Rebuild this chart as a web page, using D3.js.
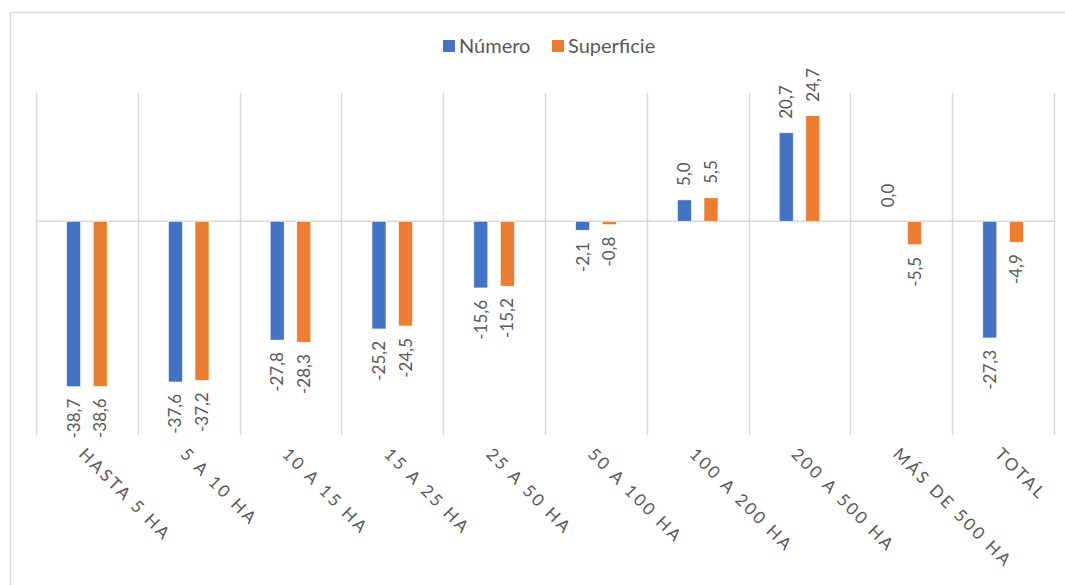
<!DOCTYPE html>
<html>
<head>
<meta charset="utf-8">
<script src="https://d3js.org/d3.v7.min.js"></script>
<style>
  body { margin: 0; background: #fff; }
  text { font-family: Lato, "Open Sans", sans-serif; fill: #595959; }
</style>
</head>
<body>
<div id="chart"></div>
<script>
  var categories = ["HASTA 5 HA", "5 A 10 HA", "10 A 15 HA", "15 A 25 HA", "25 A 50 HA",
    "50 A 100 HA", "100 A 200 HA", "200 A 500 HA", "MÁS DE 500 HA", "TOTAL"];
  var numero = [-38.7, -37.6, -27.8, -25.2, -15.6, -2.1, 5.0, 20.7, 0.0, -27.3];
  var superficie = [-38.6, -37.2, -28.3, -24.5, -15.2, -0.8, 5.5, 24.7, -5.5, -4.9];
  var seriesNames = ["Número", "Superficie"];
  var colors = ["#4472C4", "#ED7D31"];

  var width = 1065, height = 585;
  var margin = { top: 93, right: 11, bottom: 150, left: 36 };

  var svg = d3.select("#chart").append("svg")
    .attr("width", width)
    .attr("height", height);

  // outer frame (only top and left edges are visible in the crop)
  svg.append("line").attr("x1", 10).attr("x2", width).attr("y1", 12.5).attr("y2", 12.5)
    .attr("stroke", "#d9d9d9").attr("stroke-width", 1.5);
  svg.append("line").attr("x1", 10.5).attr("x2", 10.5).attr("y1", 12).attr("y2", height)
    .attr("stroke", "#d9d9d9").attr("stroke-width", 1.5);

  var x = d3.scaleBand()
    .domain(categories)
    .range([margin.left, width - margin.right]);

  var y = d3.scaleLinear()
    .domain([-50, 30])
    .range([height - margin.bottom, margin.top]);

  var data = categories.map(function (c, i) {
    return { cat: c, values: [numero[i], superficie[i]] };
  });

  var barW = 14;
  var offset = 13.3;

  // vertical gridlines at category boundaries
  var bounds = categories.map(function (c) { return x(c); }).concat([x.range()[1]]);
  svg.append("g").selectAll("line")
    .data(bounds)
    .enter().append("line")
    .attr("x1", function (d) { return Math.round(d) + 0.5; })
    .attr("x2", function (d) { return Math.round(d) + 0.5; })
    .attr("y1", y(30))
    .attr("y2", y(-50))
    .attr("stroke", "#d9d9d9")
    .attr("stroke-width", 1.5);

  // zero line
  svg.append("line")
    .attr("x1", x.range()[0]).attr("x2", x.range()[1])
    .attr("y1", y(0)).attr("y2", y(0))
    .attr("stroke", "#d9d9d9").attr("stroke-width", 1.5);

  var groups = svg.append("g").selectAll("g")
    .data(data)
    .enter().append("g")
    .attr("transform", function (d) { return "translate(" + (x(d.cat) + x.bandwidth() / 2) + ",0)"; });

  [0, 1].forEach(function (s) {
    var cx = s === 0 ? -offset : offset;
    groups.append("rect")
      .attr("x", cx - barW / 2)
      .attr("width", barW)
      .attr("y", function (d) { return y(Math.max(0, d.values[s])); })
      .attr("height", function (d) { return Math.abs(y(d.values[s]) - y(0)); })
      .attr("fill", colors[s])
      .attr("stroke", "#fff").attr("stroke-width", 0.6);

    groups.append("text")
      .attr("transform", function (d) {
        var v = d.values[s];
        var ty = v >= 0 ? y(v) - 14 : y(v) + 12;
        return "translate(" + cx + "," + ty + ") rotate(-90)";
      })
      .attr("dy", "0.35em")
      .attr("text-anchor", function (d) { return d.values[s] >= 0 ? "start" : "end"; })
      .style("font-size", "17px")
      .text(function (d) { return d3.format(".1f")(d.values[s]).replace(".", ",").replace("−", "-"); });
  });

  // category labels, rotated 45 degrees
  svg.append("g").selectAll("text")
    .data(categories)
    .enter().append("text")
    .attr("transform", function (d) {
      return "translate(" + (x(d) + x.bandwidth() / 2 - 5) + "," + 451 + ") rotate(45)";
    })
    .attr("dy", "0.35em")
    .style("font-size", "17px")
    .style("letter-spacing", "2.6px")
    .text(function (d) { return d; });

  // legend
  var legend = svg.append("g");
  var legendX = [443, 552];
  seriesNames.forEach(function (n, i) {
    legend.append("rect")
      .attr("x", legendX[i]).attr("y", 40)
      .attr("width", 12).attr("height", 12)
      .attr("fill", colors[i]);
    legend.append("text")
      .attr("x", legendX[i] + 16).attr("y", 53)
      .style("font-size", "20px")
      .text(n);
  });
</script>
</body>
</html>
